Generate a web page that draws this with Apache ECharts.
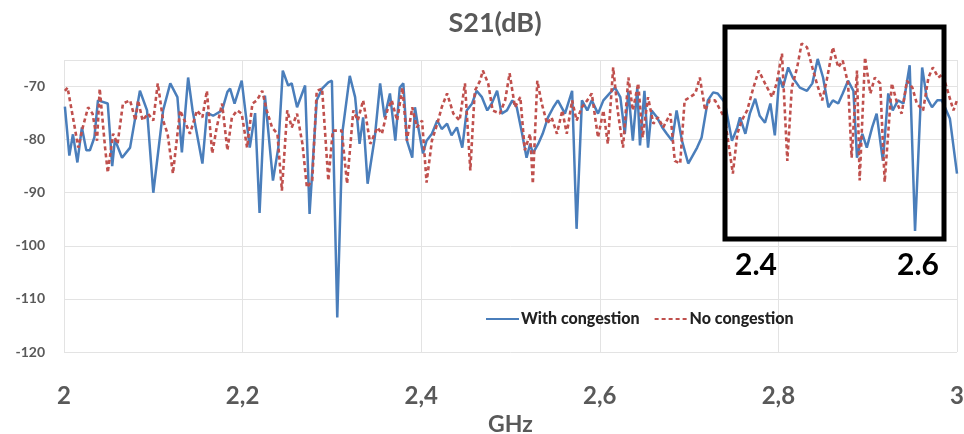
<!DOCTYPE html>
<html>
<head>
<meta charset="utf-8">
<script src="https://cdn.jsdelivr.net/npm/echarts@6/dist/echarts.min.js"></script>
<style>
  html, body { margin: 0; padding: 0; background: #fff; }
  #chart { width: 964px; height: 434px; }
</style>
</head>
<body>
<div id="chart"></div>
<script>
// frequency (GHz) and S21 (dB)
var blueFreq = [2.001, 2.006, 2.010, 2.015, 2.020, 2.025, 2.029, 2.034, 2.038, 2.049, 2.054, 2.057, 2.065, 2.074, 2.085, 2.093, 2.100, 2.111, 2.119, 2.127,
  2.132, 2.139, 2.144, 2.155, 2.160, 2.167, 2.177, 2.183, 2.186, 2.191, 2.199, 2.208, 2.214, 2.219, 2.225, 2.234, 2.240, 2.245, 2.251, 2.255,
  2.261, 2.270, 2.275, 2.283, 2.289, 2.296, 2.300, 2.306, 2.312, 2.320, 2.326, 2.331, 2.335, 2.340, 2.348, 2.354, 2.359, 2.365, 2.371, 2.376,
  2.380, 2.384, 2.390, 2.393, 2.396, 2.402, 2.406, 2.412, 2.418, 2.423, 2.429, 2.434, 2.440, 2.446, 2.451, 2.457, 2.462, 2.468, 2.474, 2.479,
  2.485, 2.490, 2.496, 2.502, 2.507, 2.513, 2.518, 2.522, 2.525, 2.531, 2.536, 2.542, 2.548, 2.553, 2.561, 2.569, 2.574, 2.580, 2.586, 2.591,
  2.598, 2.604, 2.611, 2.617, 2.623, 2.628, 2.632, 2.637, 2.642, 2.645, 2.650, 2.654, 2.658, 2.664, 2.670, 2.675, 2.681, 2.686, 2.692, 2.699,
  2.709, 2.714, 2.721, 2.727, 2.732, 2.740, 2.748, 2.754, 2.757, 2.763, 2.768, 2.774, 2.779, 2.785, 2.791, 2.796, 2.801, 2.805, 2.811, 2.816,
  2.824, 2.832, 2.838, 2.844, 2.850, 2.856, 2.861, 2.867, 2.872, 2.878, 2.884, 2.888, 2.894, 2.899, 2.905, 2.910, 2.917, 2.923, 2.928, 2.934,
  2.940, 2.947, 2.953, 2.961, 2.966, 2.972, 2.978, 2.983, 2.992, 3.000];
var blueDb = [-73.8, -83, -79, -84.3, -77.7, -82, -82, -79.6, -72.6, -73.2, -85, -80, -83.4, -81.5, -70.8, -74.5, -90, -74.5, -69.4, -72,
  -82.4, -68.3, -74.5, -84.5, -74.9, -75.5, -74.5, -71, -70.4, -73.2, -68.9, -81.5, -75, -93.8, -71.7, -87.7, -81.5, -67, -69.8, -69.4,
  -73.9, -69.8, -94, -72.6, -70.4, -69.2, -68.9, -113.5, -78.3, -68, -72, -80.8, -75.8, -88.3, -79.6, -69.4, -75.8, -71.3, -80.2, -70.2,
  -69.4, -80.2, -83.4, -73.9, -77, -82.6, -80.2, -78.9, -76.4, -78, -77, -79.2, -77.7, -81.5, -74.5, -73.2, -70.8, -72, -74.5, -73.2,
  -70.8, -75.1, -74.5, -72.6, -73.9, -78.9, -83.4, -80.8, -82.6, -80.8, -78.9, -75.8, -73.9, -72.6, -75.1, -70.8, -96.8, -72.6, -74.5, -72.6,
  -75.1, -72.6, -71.3, -70.2, -72, -78.9, -70.8, -80.2, -70.2, -81.1, -70.8, -81.5, -74.5, -75.8, -77.7, -78.9, -80.2, -74.5, -80.2, -84.5,
  -81.5, -79.6, -72.6, -71.1, -71.3, -73, -80.2, -77.7, -75.8, -78.9, -75.1, -72.3, -75.5, -76.8, -73.2, -79.2, -68.3, -70.2, -66.4, -68.3,
  -70.2, -70.8, -69.4, -64.8, -68.3, -73.9, -72.6, -73.2, -71.3, -68.9, -70.8, -83.4, -78.9, -81.5, -77.7, -75.1, -84, -71.3, -74.5, -72.6,
  -73.2, -66, -97.2, -66.4, -72, -73.9, -72.6, -72.6, -76, -86.4];

var redFreq = [2.001, 2.004, 2.010, 2.016, 2.021, 2.027, 2.032, 2.037, 2.040, 2.046, 2.049, 2.055, 2.060, 2.066, 2.074, 2.080, 2.083, 2.088, 2.094, 2.100,
  2.105, 2.111, 2.116, 2.122, 2.130, 2.135, 2.141, 2.149, 2.155, 2.160, 2.166, 2.171, 2.177, 2.183, 2.188, 2.194, 2.199, 2.205, 2.211, 2.216,
  2.222, 2.227, 2.233, 2.239, 2.244, 2.250, 2.255, 2.261, 2.267, 2.272, 2.278, 2.283, 2.289, 2.292, 2.296, 2.301, 2.311, 2.317, 2.324, 2.329,
  2.335, 2.343, 2.351, 2.356, 2.362, 2.367, 2.373, 2.379, 2.384, 2.390, 2.395, 2.401, 2.406, 2.412, 2.418, 2.423, 2.429, 2.436, 2.443, 2.449,
  2.455, 2.460, 2.466, 2.469, 2.475, 2.480, 2.488, 2.494, 2.499, 2.505, 2.511, 2.516, 2.522, 2.525, 2.530, 2.535, 2.541, 2.546, 2.552, 2.558,
  2.563, 2.569, 2.574, 2.580, 2.586, 2.591, 2.598, 2.604, 2.609, 2.615, 2.620, 2.626, 2.632, 2.637, 2.643, 2.648, 2.654, 2.660, 2.665, 2.671,
  2.679, 2.684, 2.690, 2.695, 2.701, 2.707, 2.712, 2.718, 2.723, 2.729, 2.740, 2.749, 2.754, 2.759, 2.765, 2.772, 2.778, 2.785, 2.793, 2.798,
  2.804, 2.810, 2.815, 2.821, 2.826, 2.832, 2.838, 2.843, 2.849, 2.854, 2.861, 2.867, 2.872, 2.878, 2.882, 2.888, 2.891, 2.897, 2.903, 2.908,
  2.914, 2.919, 2.927, 2.933, 2.938, 2.944, 2.950, 2.955, 2.962, 2.968, 2.973, 2.979, 2.984, 2.996, 3.000];
var redDb = [-70.8, -70.2, -75.8, -81.5, -77.7, -73.9, -75.1, -80.2, -70.4, -81.5, -86.2, -78.9, -80.8, -73.2, -72.6, -76.4, -72.6, -76.4, -75.1, -76.4,
  -69.4, -76.4, -78.9, -86.4, -74.5, -76.4, -78.9, -74.5, -75.8, -70.8, -82.6, -77.7, -73.2, -82, -75.8, -74.5, -75.1, -81.5, -73.2, -72.6,
  -70.8, -74.5, -77.7, -78.9, -89.6, -74.5, -77.7, -75.1, -80.8, -89, -87.7, -70.8, -70.4, -77.7, -87.7, -78.3, -78.3, -88.3, -74.5, -76.4,
  -72.6, -80.8, -77.7, -78.9, -74.5, -72.6, -76.4, -70.2, -80.2, -73.9, -77.7, -76.4, -88.1, -80.2, -77, -73.9, -71.3, -75.1, -76.4, -69.4,
  -85.8, -70.8, -68.9, -67, -69.4, -74.5, -75.1, -72.6, -67.5, -73.9, -72, -82, -78.9, -88.3, -68.9, -73.2, -77, -75.8, -78.9, -74.5,
  -78.9, -72.6, -76.4, -73.9, -72.6, -71.3, -79.6, -74.5, -80.8, -66.4, -74.5, -81.5, -68.3, -74.5, -69.4, -79.6, -72, -77, -75.8, -77.7,
  -75.1, -84, -84.5, -72.6, -72, -71.3, -68.3, -74.5, -72.6, -72.6, -76, -86.4, -78.9, -76.4, -74.5, -70.2, -67, -69.4, -72, -69.4,
  -63.8, -84, -70.2, -66.4, -61.9, -62.6, -66.4, -69.4, -72.6, -68.9, -62.6, -66.4, -65.1, -69.4, -83.4, -67, -87.7, -64.5, -71.3, -68.3,
  -69.4, -88, -69.4, -73.2, -75.1, -68.9, -70.2, -73.2, -74.5, -68.3, -66.4, -68.3, -67.7, -74.5, -72.6];

var xTicks = [2, 2.2, 2.4, 2.6, 2.8, 3];
var boxLabels = ['2.4', '2.6'];

function pairs(fs, vs) {
  return fs.map(function (f, i) { return [f, vs[i]]; });
}

var myChart = echarts.init(document.getElementById('chart'));
var gray = '#595959';
var font = 'Lato, "Open Sans", sans-serif';

var option = {
  animation: false,
  title: {
    text: 'S21(dB)',
    left: 490, top: 5, textAlign: 'center',
    textStyle: { fontFamily: font, fontSize: 27, fontWeight: 'bold', color: gray }
  },
  legend: {
    left: 480, top: 306,
    itemWidth: 33, itemHeight: 12, itemGap: 14,
    itemStyle: { opacity: 0 },
    textStyle: { fontFamily: font, fontSize: 16, fontWeight: 900, color: '#222', padding: [0, 0, 0, -3] },
    data: ['With congestion', 'No congestion']
  },
  grid: { left: 64, right: 7, top: 60, bottom: 82, containLabel: false, outerBoundsMode: 'none' },
  xAxis: {
    type: 'value', min: 2, max: 3, interval: 0.2,
    name: 'GHz', nameLocation: 'middle', nameGap: 46,
    nameTextStyle: { fontFamily: font, fontSize: 23, fontWeight: 'bold', color: gray, padding: [0, 0, 0, 0] },
    axisLine: { show: false }, axisTick: { show: false },
    axisLabel: {
      margin: 32, fontFamily: font, fontSize: 24, fontWeight: 'bold', color: gray,
      formatter: function (v) {
        var t = xTicks.find(function (k) { return Math.abs(k - v) < 1e-6; });
        return t === undefined ? '' : String(t).replace('.', ',');
      }
    },
    splitLine: { show: true, lineStyle: { color: '#e3e3e3', width: 1 } }
  },
  yAxis: {
    type: 'value', min: -120, max: -65, interval: 10,
    axisLine: { show: false }, axisTick: { show: false },
    axisLabel: {
      margin: 19, fontFamily: font, fontSize: 14, fontWeight: 'bold', color: gray,
      showMaxLabel: false
    },
    splitLine: { show: true, lineStyle: { color: '#e3e3e3', width: 1 } }
  },
  series: [
    {
      name: 'With congestion', type: 'line', symbol: 'none', clip: false,
      lineStyle: { color: '#4a7ebb', width: 2.5 },
      itemStyle: { color: '#4a7ebb' },
      data: pairs(blueFreq, blueDb)
    },
    {
      name: 'No congestion', type: 'line', symbol: 'none', clip: false,
      lineStyle: { color: '#c0504d', width: 2.6, type: [4, 3] },
      itemStyle: { color: '#c0504d' },
      data: pairs(redFreq, redDb)
    }
  ],
  graphic: [
    {
      type: 'rect', z: 100,
      shape: { x: 725, y: 27, width: 219, height: 212 },
      style: { fill: 'transparent', stroke: '#000', lineWidth: 5 }
    },
    {
      type: 'text', z: 100, x: 756, y: 265,
      style: { text: boxLabels[0], fill: '#000', font: 'bold 30px ' + font, align: 'center', verticalAlign: 'middle' }
    },
    {
      type: 'text', z: 100, x: 918, y: 265,
      style: { text: boxLabels[1], fill: '#000', font: 'bold 30px ' + font, align: 'center', verticalAlign: 'middle' }
    }
  ]
};

myChart.setOption(option);
window.addEventListener('resize', function () {
  myChart.resize();
});
</script>
</body>
</html>
